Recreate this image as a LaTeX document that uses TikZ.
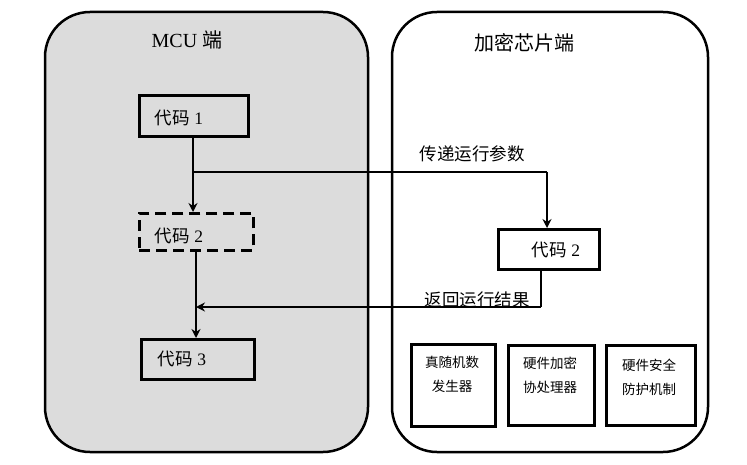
\documentclass[tikz,border=0pt]{standalone}
\usepackage{fontspec}
\setmainfont{Liberation Serif}
\newfontfamily\cjk{Noto Sans CJK SC}
\newfontfamily\cjkw[LetterSpace=12]{Noto Sans CJK SC}
\usetikzlibrary{arrows.meta}
\begin{document}
\begin{tikzpicture}[x=1pt,y=-1pt,
  panel/.style={draw=black,line width=2.5pt,rounded corners=45pt},
  codebox/.style={draw=black,line width=2.6pt,anchor=north west,inner sep=0pt},
  hwbox/.style={draw=black,line width=2.8pt,fill=white,anchor=north west,inner sep=0pt},
  hwtext/.style={align=center,font=\cjk\fontsize{13.5}{24}\selectfont},
  conn/.style={line width=1.8pt,-{Stealth[length=9pt,width=9pt]}},
  plain/.style={line width=1.8pt},
  lbl/.style={font=\fontsize{17.5}{20}\selectfont},
  ttl/.style={font=\fontsize{20}{22}\selectfont}]
\useasboundingbox (0,0) rectangle (747,465);
\fill[white] (0,0) rectangle (747,465);
\draw[panel,fill={rgb,255:red,220;green,220;blue,220}] (45,12) rectangle (368,452);
\draw[panel,fill=white] (392,12) rectangle (708,452);
\node[ttl] (mcu) at (187,40) {MCU {\cjk 端}};
\node[ttl] (chip) at (524,43) {\cjk 加密芯片端};
\node[codebox,minimum width=109pt,minimum height=41pt] (c1) at (138,94) {};
\node[lbl] at (179,118) {{\cjk 代码} 1};
\node[codebox,dashed,dash pattern=on 11pt off 6pt,minimum width=114pt,minimum height=37pt] (c2) at (138,212) {};
\node[lbl] at (179,236) {{\cjk 代码} 2};
\node[codebox,minimum width=113pt,minimum height=40pt] (c3) at (140,338) {};
\node[lbl] at (182,359) {{\cjk 代码} 3};
\node[codebox,minimum width=101pt,minimum height=40pt] (r2) at (497,228) {};
\node[lbl] at (556,250) {{\cjk 代码} 2};
\coordinate (j1) at (193,172);
\coordinate (k1) at (547,172);
\coordinate (j2) at (196,307);
\coordinate (k2) at (541,307);
\draw[conn] (c1.south -| j1) -- (c2.north -| j1);
\draw[plain] (j1) -- (k1);
\draw[conn] (k1) -- (r2.north -| k1);
\draw[conn] (c2.south -| j2) -- (c3.north -| j2);
\draw[plain] (r2.south -| k2) -- (k2);
\draw[conn] (k2) -- (j2);
\node[lbl] (p) at (472,154) {\cjk 传递运行参数};
\node[lbl] (q) at (477,300) {\cjk 返回运行结果};
\node[hwbox,minimum width=84pt,minimum height=82pt] (h1) at (410,343) {};
\node[hwtext] at (452,374) {真随机数\\发生器};
\node[hwbox,minimum width=86pt,minimum height=80pt] (h2) at (507,344) {};
\node[hwtext] at (550,375) {硬件加密\\协处理器};
\node[hwbox,minimum width=89pt,minimum height=80pt] (h3) at (605,344) {};
\node[hwtext] at (649,377) {硬件安全\\防护机制};
\end{tikzpicture}
\end{document}
